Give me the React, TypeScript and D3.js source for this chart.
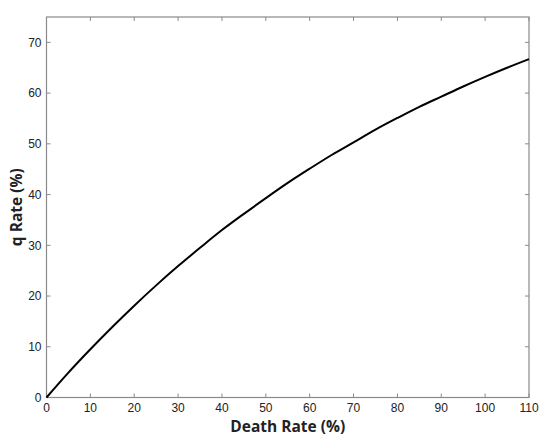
import React, { useRef, useEffect } from "react";
import * as d3 from "d3";

const deathRate = [0, 5, 10, 15, 20, 25, 30, 35, 40, 45, 50, 55, 60, 65, 70, 75, 80, 85, 90, 95, 100, 105, 110];
const qRate = [0, 4.9, 9.5, 13.9, 18.1, 22.1, 25.9, 29.5, 33.0, 36.2, 39.3, 42.3, 45.1, 47.8, 50.3, 52.8, 55.1, 57.3, 59.3, 61.3, 63.2, 65.0, 66.7];
const xTicks = [0, 10, 20, 30, 40, 50, 60, 70, 80, 90, 100, 110];
const yTicks = [0, 10, 20, 30, 40, 50, 60, 70];

const App: React.FC = () => {
  const svgRef = useRef<SVGSVGElement | null>(null);

  useEffect(() => {
    const svg = d3.select(svgRef.current);
    svg.selectAll("*").remove();

    const width = 550;
    const height = 445;
    const margin = { top: 17, right: 21, bottom: 47.5, left: 46.5 };
    const x = d3.scaleLinear().domain([0, 110]).range([margin.left, width - margin.right]);
    const y = d3.scaleLinear().domain([0, 75]).range([height - margin.bottom, margin.top]);

    const axisColor = "#8a8a8a";
    const tickLen = 4;

    // box
    svg.append("rect")
      .attr("x", x(0))
      .attr("y", y(75))
      .attr("width", x(110) - x(0))
      .attr("height", y(0) - y(75))
      .attr("fill", "none")
      .attr("stroke", axisColor)
      .attr("stroke-width", 1.2);

    // inward ticks, mirrored
    const ticks = svg.append("g").attr("stroke", axisColor).attr("stroke-width", 1);
    xTicks.forEach(t => {
      ticks.append("line").attr("x1", x(t)).attr("x2", x(t)).attr("y1", y(0)).attr("y2", y(0) - tickLen);
      ticks.append("line").attr("x1", x(t)).attr("x2", x(t)).attr("y1", y(75)).attr("y2", y(75) + tickLen);
    });
    yTicks.forEach(t => {
      ticks.append("line").attr("x1", x(0)).attr("x2", x(0) + tickLen).attr("y1", y(t)).attr("y2", y(t));
      ticks.append("line").attr("x1", x(110)).attr("x2", x(110) - tickLen).attr("y1", y(t)).attr("y2", y(t));
    });

    const labels = svg.append("g")
      .attr("font-family", "'Liberation Sans', Arial, sans-serif")
      .attr("font-size", 12)
      .attr("fill", "#222");
    xTicks.forEach(t => {
      labels.append("text")
        .attr("x", x(t))
        .attr("y", y(0) + 14.5)
        .attr("text-anchor", "middle")
        .text(t);
    });
    yTicks.forEach(t => {
      labels.append("text")
        .attr("x", x(0) - 5)
        .attr("y", y(t))
        .attr("dy", "0.35em")
        .attr("text-anchor", "end")
        .text(t);
    });

    const line = d3.line<number>()
      .x((_, i) => x(deathRate[i]))
      .y(d => y(d))
      .curve(d3.curveCatmullRom);

    svg.append("path")
      .datum(qRate)
      .attr("fill", "none")
      .attr("stroke", "#000")
      .attr("stroke-width", 2)
      .attr("d", line);

    // axis titles
    svg.append("text")
      .attr("x", x(55))
      .attr("y", 432)
      .attr("text-anchor", "middle")
      .attr("font-family", "'Open Sans', sans-serif")
      .attr("font-weight", "bold")
      .attr("font-size", 15.5)
      .attr("fill", "#222")
      .text("Death Rate (%)");

    svg.append("text")
      .attr("transform", `translate(22,${y(37.5)}) rotate(-90)`)
      .attr("text-anchor", "middle")
      .attr("font-family", "'Open Sans', sans-serif")
      .attr("font-weight", "bold")
      .attr("font-size", 15.5)
      .attr("fill", "#222")
      .text("q Rate (%)");
  }, []);

  return (
    <div style={{ position: "absolute", left: 0, top: 0 }}>
      <svg ref={svgRef} width={550} height={445} style={{ display: "block" }} />
    </div>
  );
};

export default App;
